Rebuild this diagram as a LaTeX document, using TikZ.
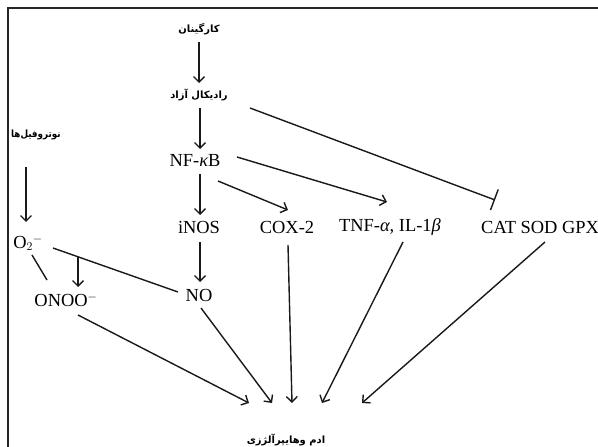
\documentclass[tikz,border=0pt]{standalone}
\usepackage{fontspec}
\setmainfont{Liberation Serif}
\newfontfamily\arabicfont[Script=Arabic]{DejaVu Sans}
\TeXXeTstate=1
\usetikzlibrary{arrows.meta,calc}
\begin{document}
\begin{tikzpicture}[x=1bp,y=-1bp,
  lbl/.style={inner sep=0pt,font=\fontsize{18.5}{21}\selectfont},
  fa/.style={inner sep=0pt,font=\arabicfont\bfseries\fontsize{10}{12}\selectfont},
  con/.style={line width=1.4bp,draw=black!90},
  arr/.style={con,-{Straight Barb[length=5.5bp,width=11bp,line width=1.4bp]}},
  inh/.style={con,-{Bar[width=22bp,line width=1.4bp]}}]
\useasboundingbox (0,0) rectangle (598,447);
\draw[line width=1.6bp,black!85] (8,447) -- (8,8) -- (598,8);
% nodes
\node[fa] (carr) at (199,29) {\beginR کارگینان\endR};
\node[fa] (rad) at (199,95) {\beginR رادیکال آزاد\endR};
\node[fa,xscale=0.88,anchor=west] (neut) at (11,135) {\beginR نوتروفیل‌ها\endR};
\node[lbl] (nfkb) at (195,160) {NF-{\itshape κ}B};
\node[lbl] (inos) at (199,227) {iNOS};
\node[lbl] (cox) at (287,227) {COX-2};
\node[lbl] (tnf) at (390,227) {TNF-{\itshape α}, IL-1{\itshape β}};
\node[lbl,anchor=west] (cat) at (481,227) {CAT SOD GPX};
\node[lbl] (o2) at (28,243) {O$_2{}^{-}$};
\node[lbl] (onoo) at (66,300) {ONOO$^{-}$};
\node[lbl] (no) at (199,295) {NO};
\node[fa] (edema) at (286,440) {\beginR ادم وهایپرآلژزی\endR};
% endpoints near edema
\coordinate (e1) at (249,403);
\coordinate (e2) at (272,403);
\coordinate (e3) at (292,403);
\coordinate (e4) at (322,403);
\coordinate (e5) at (362,403);
% connectors
\draw[arr] (199,42) -- (199,83);
\draw[arr] (200,108) -- (200,149);
\draw[inh] (250,108) -- (495,200);
\draw[arr] (200,174) -- (200,215);
\draw[arr] (218,181) -- (288,210);
\draw[arr] (237,157) -- (387,202);
\draw[arr] (26,167) -- (26,222);
\draw[arr] (200,242) -- (200,282);
\coordinate (o2no1) at (53,248);
\coordinate (o2no2) at (178,292);
\draw[con] (o2no1) -- (o2no2);
\coordinate (onoomid) at ($(o2no1)!0.2!(o2no2)$);
\draw[arr] (onoomid) -- (onoomid |- 0,287);
\draw[con] (32,255) -- (47,280);
\draw[arr] (78,315) -- (e1);
\draw[arr] (201,308) -- (e2);
\draw[arr] (288,245) -- (e3);
\draw[arr] (403,242) -- (e4);
\draw[arr] (545,242) -- (e5);
\end{tikzpicture}
\end{document}
